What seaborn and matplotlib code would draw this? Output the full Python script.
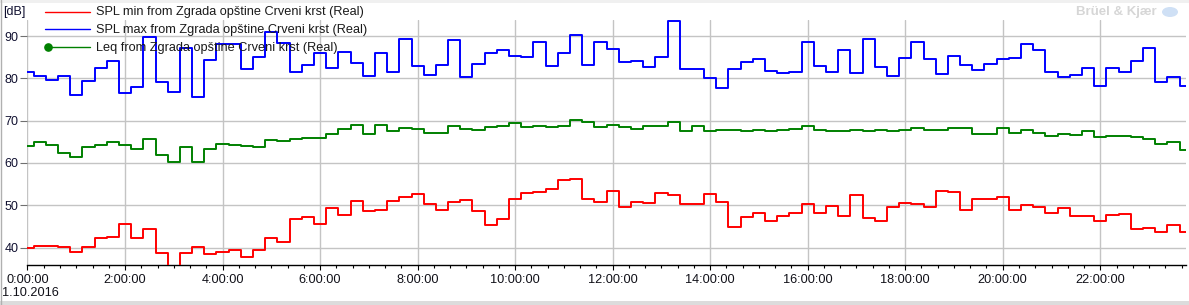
import numpy as np
import pandas as pd
import matplotlib
matplotlib.use("Agg")
import matplotlib.pyplot as plt
import seaborn as sns
from matplotlib.lines import Line2D
from matplotlib.patches import Rectangle, Ellipse
from matplotlib.ticker import MultipleLocator, FuncFormatter

# ---------------- data (15-minute intervals, 1.10.2016) ----------------
interval_hours = 0.25

spl_min = [39.8, 40.3, 40.5, 40.2, 38.9, 40.1, 42.2, 42.4, 45.7, 42.2, 44.3, 38.7,
           34.0, 38.7, 40.1, 38.5, 38.9, 39.4, 37.9, 39.4, 42.2, 41.3, 46.7, 47.3,
           45.5, 49.3, 47.8, 51.0, 48.7, 48.9, 51.0, 51.9, 52.6, 50.2, 48.8, 50.7,
           51.2, 48.6, 45.3, 46.7, 51.4, 52.8, 53.1, 53.8, 55.9, 56.3, 51.6, 50.7,
           53.3, 49.5, 50.9, 50.5, 52.8, 52.4, 50.2, 50.2, 52.6, 50.8, 44.8, 47.2,
           48.3, 46.3, 47.4, 48.3, 50.2, 48.3, 49.8, 47.4, 52.4, 46.9, 46.2, 49.5,
           50.5, 50.2, 49.5, 53.5, 53.1, 48.8, 51.4, 51.6, 51.9, 48.8, 50.0, 49.5,
           48.1, 49.3, 47.4, 47.4, 46.2, 47.6, 47.9, 44.3, 44.6, 43.6, 45.3, 43.6]

spl_max = [81.6, 80.6, 79.5, 80.6, 76.0, 79.4, 82.4, 84.0, 76.5, 77.9, 89.7, 79.1,
           76.8, 87.2, 75.5, 84.3, 88.1, 88.0, 82.1, 85.0, 90.9, 88.3, 81.6, 83.1,
           85.9, 82.4, 86.3, 83.6, 80.6, 86.1, 81.6, 89.2, 82.8, 80.7, 83.1, 89.0,
           80.2, 83.4, 86.1, 86.6, 85.2, 85.0, 88.5, 82.8, 86.1, 90.2, 83.1, 88.7,
           86.9, 83.9, 84.2, 82.6, 85.0, 93.5, 82.1, 82.1, 80.0, 77.6, 82.1, 83.9,
           84.5, 81.7, 81.3, 81.5, 88.7, 82.8, 81.5, 86.8, 81.3, 89.4, 82.6, 80.5,
           84.7, 88.5, 84.5, 81.0, 85.2, 83.1, 81.9, 83.3, 84.5, 84.7, 88.0, 86.6,
           81.5, 80.2, 80.9, 82.4, 78.1, 82.4, 81.6, 84.2, 87.1, 79.1, 80.2, 78.1]

leq = [64.0, 64.9, 64.2, 62.3, 61.4, 63.8, 64.2, 64.9, 64.2, 63.2, 65.6, 61.9,
       60.2, 63.8, 60.2, 63.2, 64.4, 64.2, 64.0, 63.8, 65.5, 65.3, 65.6, 65.8,
       65.9, 66.8, 68.1, 68.9, 66.8, 68.9, 67.5, 68.2, 68.0, 67.2, 67.2, 68.7,
       68.0, 67.8, 68.4, 68.7, 69.4, 68.4, 68.7, 68.4, 68.7, 70.1, 69.6, 68.4,
       68.9, 68.4, 68.0, 68.7, 68.7, 69.8, 67.5, 68.7, 67.5, 67.7, 67.7, 67.5,
       67.9, 67.5, 67.7, 68.1, 68.7, 67.7, 67.5, 67.5, 67.7, 67.5, 67.9, 67.5,
       67.9, 68.2, 67.9, 67.7, 68.2, 68.2, 66.8, 66.8, 68.2, 67.2, 67.7, 67.0,
       66.3, 66.8, 66.5, 67.5, 66.1, 66.3, 66.3, 66.1, 65.6, 64.6, 64.9, 63.0]

series_names = ["SPL min from Zgrada opštine Crveni krst (Real)",
                "SPL max from Zgrada opštine Crveni krst (Real)",
                "Leq from Zgrada opštine Crveni krst (Real)"]
series_colors = ["#ff0000", "#0000ff", "#008000"]
date_label = "1.10.2016"
unit_label = "[dB]"
brand_label = "Brüel & Kjær"

hours = np.arange(len(spl_max)) * interval_hours
frames = []
for name, vals in zip(series_names, [spl_min, spl_max, leq]):
    frames.append(pd.DataFrame({"hour": hours, "value": vals, "series": name}))
df = pd.concat(frames, ignore_index=True)

# ---------------- figure ----------------
sns.set_theme(style="white")
plt.rcParams["font.family"] = ["Liberation Sans", "DejaVu Sans"]

W, H = 1189, 305
fig = plt.figure(figsize=(W / 100, H / 100), dpi=100)
fig.patch.set_facecolor("white")

ax_left, ax_right, ax_bottom, ax_top = 27.5, 1185.6, 265.0, 19.5
ax = fig.add_axes([ax_left / W, 1 - ax_bottom / H,
                   (ax_right - ax_left) / W, (ax_bottom - ax_top) / H])
ax.set_facecolor("white")

sns.lineplot(data=df, x="hour", y="value", hue="series",
             hue_order=series_names,
             palette=dict(zip(series_names, series_colors)),
             estimator=None, drawstyle="steps-mid", linewidth=1.4,
             legend=False, ax=ax, zorder=3)

ax.set_xlim(0, 23.75)
ax.set_ylim(35.9, 93.9)
ax.set_xlabel("")
ax.set_ylabel("")

ax.xaxis.set_major_locator(MultipleLocator(2))
ax.xaxis.set_minor_locator(MultipleLocator(1 / 3))
ax.xaxis.set_major_formatter(FuncFormatter(lambda v, p: f"{int(round(v))}:00:00"))
ax.yaxis.set_major_locator(MultipleLocator(10))

ax.grid(True, which="major", color="#c4c4c4", linewidth=1.0)
ax.get_xgridlines()[0].set_visible(False)

for s in ["left", "top", "right"]:
    ax.spines[s].set_visible(False)
ax.spines["bottom"].set_color("black")
ax.spines["bottom"].set_linewidth(1.0)

ax.tick_params(axis="x", which="major", direction="out", length=3.4, width=0.8,
               color="black", labelsize=9.2, labelcolor="#101018", pad=3, bottom=True)
ax.tick_params(axis="x", which="minor", direction="out", length=1.9, width=0.8,
               color="black", bottom=True)
ax.tick_params(axis="y", which="major", direction="out", length=5, width=0.8,
               color="#707070", labelsize=9, labelcolor="#101030", pad=1.5, left=True)

# ---------------- legend (drawn in figure pixels) ----------------
def fx(px):
    return px / W

def fy(py):
    return 1 - py / H

rows_y = [11.7, 29.3, 47.0]
for name, col, ry in zip(series_names, series_colors, rows_y):
    fig.add_artist(Line2D([fx(45), fx(90)], [fy(ry), fy(ry)], color=col,
                          linewidth=1.0, transform=fig.transFigure, zorder=5))
    fig.text(fx(95.5), fy(ry + 0.8), name, fontsize=9.2, color="#1a1a1a",
             va="center", ha="left", zorder=6)
fig.add_artist(Line2D([fx(47.7)], [fy(rows_y[2])], marker="o", markersize=5.2,
                      color=series_colors[2], transform=fig.transFigure, zorder=6))

# ---------------- other texts / frame ----------------
fig.text(fx(3), fy(12), unit_label, fontsize=9, color="#101030", va="center", ha="left")
fig.text(fx(2), fy(293), date_label, fontsize=9.2, color="#101018", va="center", ha="left")
fig.text(fx(1157), fy(12), brand_label, fontsize=9.5, fontweight="bold",
         color="#d6d6d6", va="center", ha="right")
fig.add_artist(Ellipse((fx(1170), fy(12)), width=fx(16), height=10 / H,
                       transform=fig.transFigure, facecolor="#cfe0f5",
                       edgecolor="none", zorder=4))

fig.add_artist(Rectangle((0, fy(3)), 1, 3 / H, transform=fig.transFigure,
                         facecolor="#f0f0f0", edgecolor="none", zorder=0))
fig.add_artist(Rectangle((0, 0), 1, 4 / H, transform=fig.transFigure,
                         facecolor="#dcdcdc", edgecolor="none", zorder=0))
fig.add_artist(Line2D([fx(1), fx(1)], [0, 1], color="#b0b0b0", linewidth=1,
                      transform=fig.transFigure, zorder=1))

fig.savefig("out.png", dpi=100, facecolor="white")
